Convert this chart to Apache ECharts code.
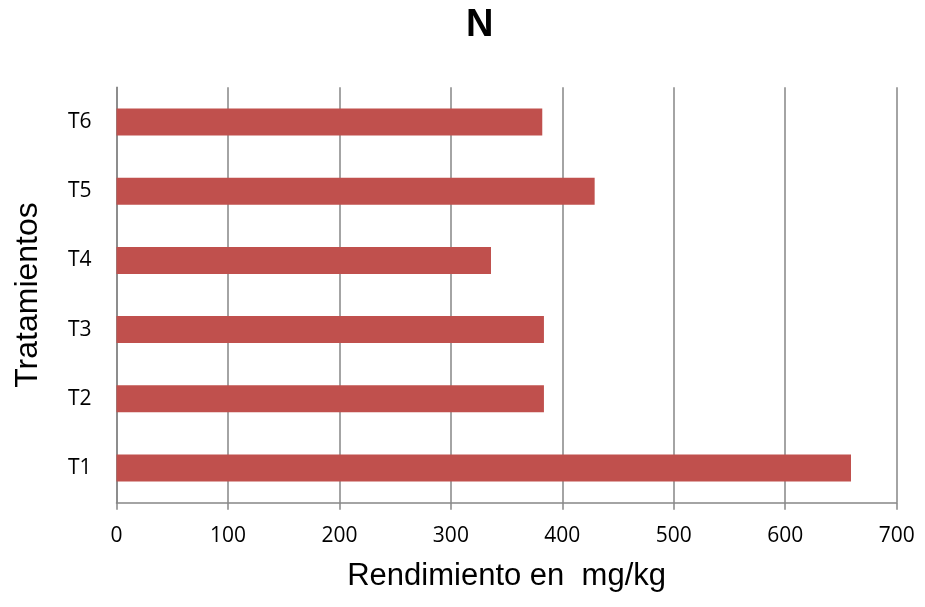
<!DOCTYPE html>
<html>
<head>
<meta charset="utf-8">
<script src="https://cdn.jsdelivr.net/npm/echarts@6/dist/echarts.min.js"></script>
<style>
  html, body { margin: 0; padding: 0; background: #fff; }
  #chart { width: 925px; height: 607px; }
</style>
</head>
<body>
<div id="chart"></div>
<script>
// Treatments, bottom to top
const categories = ['T1', 'T2', 'T3', 'T4', 'T5', 'T6'];
// Nitrogen yield (mg/kg) per treatment
const nValues = [659, 383.5, 383.5, 336, 429, 382];
const xTicks = { min: 0, max: 700, interval: 100 };

const chart = echarts.init(document.getElementById('chart'));
chart.setOption({
  animation: false,
  backgroundColor: '#ffffff',
  title: {
    text: 'N',
    left: 461,
    top: 2,
    textStyle: { fontFamily: 'Liberation Sans, Arial', fontSize: 38, fontWeight: 'bold', color: '#000' }
  },
  grid: {
    left: 116.5, right: 28.3, top: 87.3, bottom: 104.3,
    containLabel: false,
    outerBoundsMode: 'none'
  },
  xAxis: {
    type: 'value',
    min: xTicks.min,
    max: xTicks.max,
    interval: xTicks.interval,
    name: 'Rendimiento en  mg/kg',
    nameLocation: 'middle',
    nameGap: 58,
    nameTextStyle: { fontFamily: 'Liberation Sans, Arial', fontSize: 31, color: '#000' },
    axisLine: { show: true, lineStyle: { color: '#868686', width: 1.5 } },
    axisTick: { show: true, length: 7, lineStyle: { color: '#868686', width: 1.5 } },
    axisLabel: { margin: 23, fontFamily: 'Open Sans, Noto Sans', fontSize: 21, color: '#000' },
    splitLine: { show: true, lineStyle: { color: '#868686', width: 1.5 } }
  },
  yAxis: {
    type: 'category',
    data: categories,
    name: 'Tratamientos',
    nameLocation: 'middle',
    nameGap: 72,
    nameRotate: 90,
    nameTextStyle: { fontFamily: 'Liberation Sans, Arial', fontSize: 32, color: '#000' },
    axisLine: { show: true, lineStyle: { color: '#868686', width: 1.5 } },
    axisTick: { show: false },
    axisLabel: { margin: 25, fontFamily: 'Open Sans, Noto Sans', fontSize: 21, color: '#000' },
    splitLine: { show: false }
  },
  series: [{
    type: 'bar',
    data: nValues,
    barWidth: '39%',
    itemStyle: { color: '#C0504D' }
  }]
});
</script>
</body>
</html>
